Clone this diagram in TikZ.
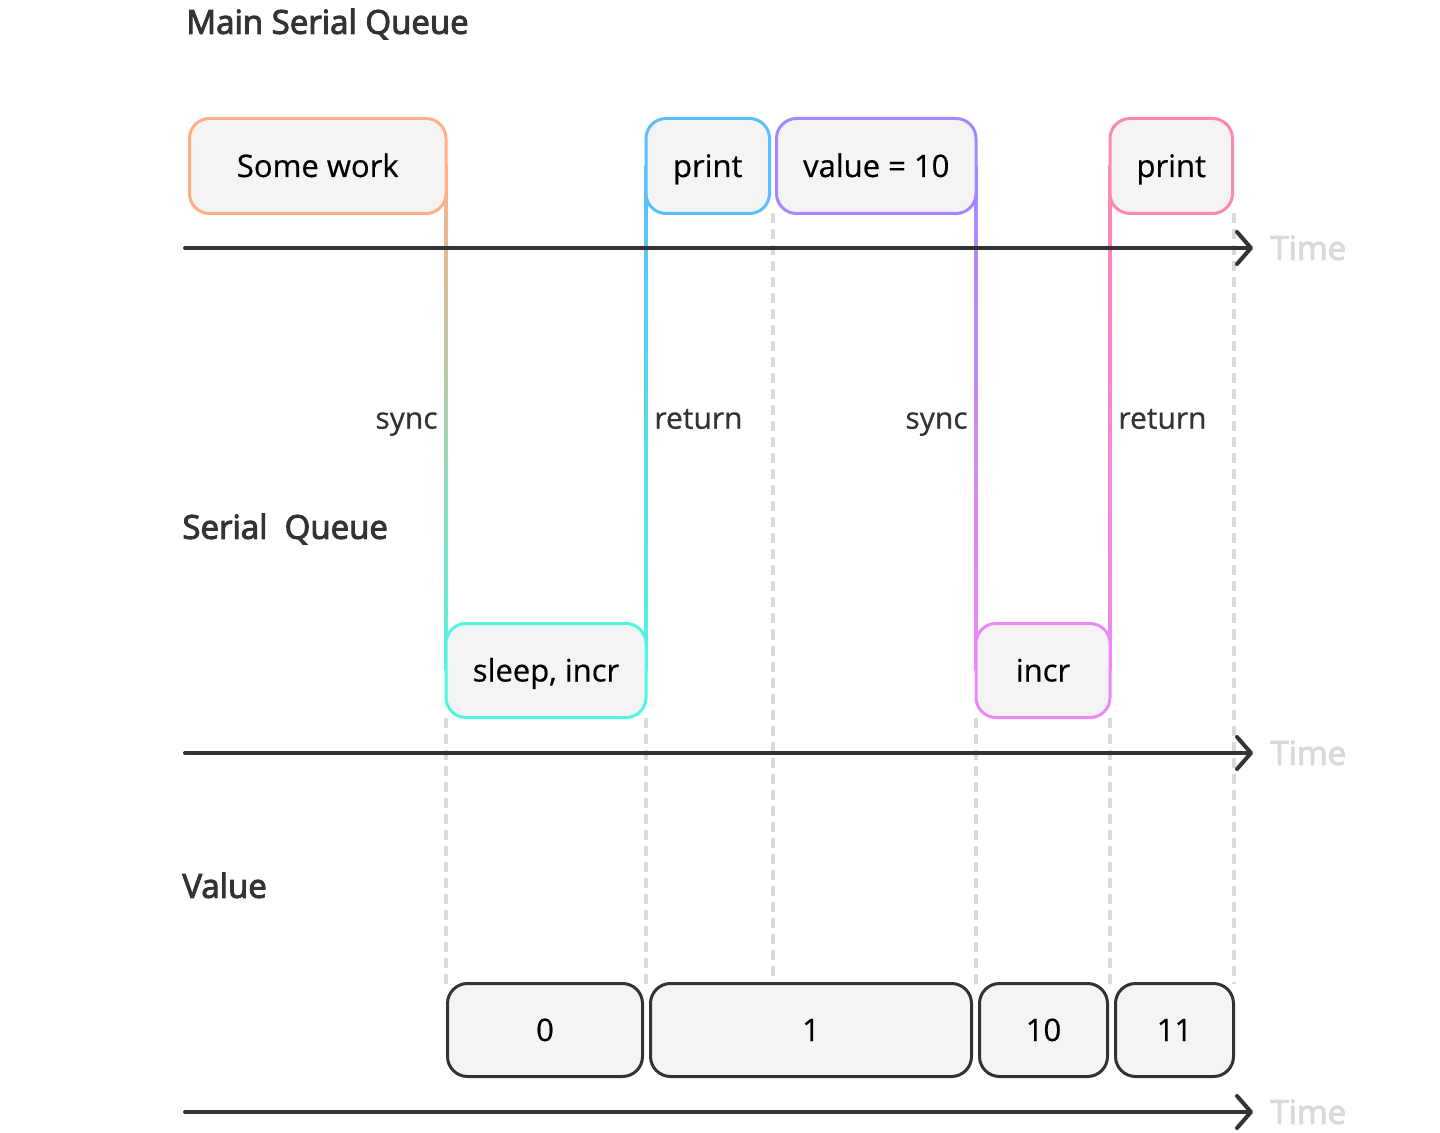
\documentclass[tikz,border=0pt]{standalone}
\usepackage{fontspec}
\setmainfont{Open Sans}
\newfontfamily\medfont{Open Sans}[FakeBold=3]
\newfontfamily\boxfont{Open Sans}[FakeBold=0.6]
\usetikzlibrary{arrows.meta,calc}
\pgfdeclarelayer{bg}
\pgfsetlayers{bg,main}
\definecolor{corange}{HTML}{FFAF85}
\definecolor{ccyan}{HTML}{52F5DE}
\definecolor{cblue}{HTML}{5ABEFF}
\definecolor{cpurple}{HTML}{A488FF}
\definecolor{cviolet}{HTML}{EC88F7}
\definecolor{cpink}{HTML}{FF88B2}
\definecolor{cdark}{HTML}{333333}
\definecolor{cfill}{HTML}{F4F4F4}
\definecolor{cdash}{HTML}{DADADA}
\definecolor{ctime}{HTML}{D9D9D9}
\begin{document}
\begin{tikzpicture}[x=0.5pt,y=-0.5pt,
  qbox/.style={rounded corners=10pt, fill=cfill, line width=1.5pt, inner sep=0pt, outer sep=0pt, text=black, text height=11pt, text depth=0pt, font=\boxfont\fontsize{15.5}{18}\selectfont},
  vbox/.style={qbox, draw=cdark},
  axis/.style={draw=cdark, line width=2pt, line cap=round, -{Straight Barb[length=7pt,width=16pt,line cap=round,line join=round]}},
  guide/.style={draw=cdash, line width=1.6pt, dash pattern=on 5pt off 3pt},
  title/.style={inner sep=0pt, anchor=west, text=cdark, text height=11.8pt, text depth=0pt, font=\medfont\fontsize{16.5}{20}\selectfont},
  timelab/.style={inner sep=0pt, anchor=west, text=ctime, text height=11.8pt, text depth=0pt, font=\medfont\fontsize{16.5}{20}\selectfont},
  lab/.style={inner sep=0pt, text=cdark, text height=10.7pt, text depth=0pt, font=\boxfont\fontsize{15}{18}\selectfont}]
\useasboundingbox (0,0) rectangle (1440,1133);

% titles
\node[title] (tmain) at (186,22) {Main Serial Queue};
\node[title] (tserial) at (182,527) {Serial\ \ Queue};
\node[title] (tvalue) at (182,886) {Value};

% main queue boxes
\node[qbox, draw=corange, minimum width=128.25pt, minimum height=47.5pt] (sw) at (317.75,166) {Some work};
\node[qbox, draw=cblue, minimum width=61.75pt, minimum height=47.5pt] (pr1) at (707.75,166) {print};
\node[qbox, draw=cpurple, minimum width=99.75pt, minimum height=47.5pt] (val) at (876.25,166) {value = 10};
\node[qbox, draw=cpink, minimum width=61.25pt, minimum height=47.5pt] (pr2) at (1171.25,166) {print};

% serial queue boxes
\node[qbox, draw=ccyan, minimum width=100pt, minimum height=47pt] (sleep) at (546,670.5) {sleep, incr};
\node[qbox, draw=cviolet, minimum width=67pt, minimum height=47pt] (incr) at (1043,670.5) {incr};

% value boxes
\node[vbox, minimum width=97.5pt, minimum height=46.5pt] (v0) at (545,1030) {0};
\node[vbox, minimum width=160.5pt, minimum height=46.5pt] (v1) at (811,1030) {1};
\node[vbox, minimum width=64pt, minimum height=46.5pt] (v10) at (1043.5,1030) {10};
\node[vbox, minimum width=59pt, minimum height=46.5pt] (v11) at (1174.5,1030) {11};

% guide x-positions
\coordinate (l1) at ($(sw.east)!0.5!(sleep.west)$);
\coordinate (l2) at ($(sleep.east)!0.5!(pr1.west)$);
\coordinate (l3) at ($(pr1.east)!0.5!(val.west)$);
\coordinate (l4) at ($(val.east)!0.5!(incr.west)$);
\coordinate (l5) at ($(incr.east)!0.5!(pr2.west)$);
\coordinate (l6) at ([xshift=0.75pt]pr2.east);

\begin{pgfonlayer}{bg}
% dashed guides
\draw[guide] (l1 |- sleep.south) -- (l1 |- v0.north);
\draw[guide] (l2 |- sleep.south) -- (l2 |- v0.north);
\draw[guide] (l3 |- pr1.south) -- ([yshift=4pt]l3 |- v1.north);
\draw[guide] (l4 |- incr.south) -- (l4 |- v10.north);
\draw[guide] (l5 |- incr.south) -- (l5 |- v11.north);
\draw[guide] (l6 |- pr2.south) -- (l6 |- v11.north);
% gradient connectors
\shade[top color=corange, bottom color=ccyan] ([xshift=-0.75pt]sw.east) rectangle ([xshift=0.75pt]sleep.west);
\shade[top color=cblue, bottom color=ccyan] ([xshift=-0.75pt]sleep.east) rectangle ([xshift=0.75pt]pr1.west);
\shade[top color=cpurple, bottom color=cviolet] ([xshift=-0.75pt]val.east) rectangle ([xshift=0.75pt]incr.west);
\shade[top color=cpink, bottom color=cviolet] ([xshift=-0.75pt]incr.east) rectangle ([xshift=0.75pt]pr2.west);
\end{pgfonlayer}

% connector labels
\node[lab, anchor=east] (s1) at (438,418) {sync};
\node[lab, anchor=west] (r1) at (654,418) {return};
\node[lab, anchor=east] (s2) at (968,418) {sync};
\node[lab, anchor=west] (r2) at (1118,418) {return};

% time axes
\coordinate (a1s) at (185,248); \coordinate (a1e) at (1253,248);
\coordinate (a2s) at (185,753); \coordinate (a2e) at (1253,753);
\coordinate (a3s) at (185,1112); \coordinate (a3e) at (1253,1112);
\draw[axis] (a1s) -- (a1e);
\draw[axis] (a2s) -- (a2e);
\draw[axis] (a3s) -- (a3e);
\node[timelab] (t1) at (1270,248) {Time};
\node[timelab] (t2) at (1270,753) {Time};
\node[timelab] (t3) at (1270,1112) {Time};
\end{tikzpicture}
\end{document}
